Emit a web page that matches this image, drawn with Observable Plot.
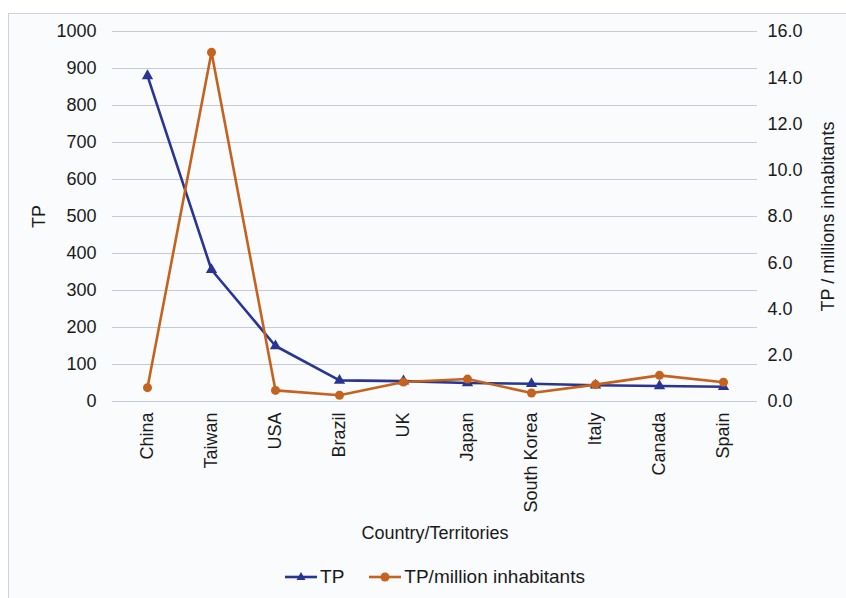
<!DOCTYPE html>
<html>
<head>
<meta charset="utf-8">
<script src="https://cdn.jsdelivr.net/npm/d3@7"></script>
<script src="https://cdn.jsdelivr.net/npm/@observablehq/plot@0.6"></script>
<style>
  html, body { margin: 0; padding: 0; background: #ffffff; overflow: hidden; }
  body { width: 846px; height: 598px; position: relative; font-family: "Liberation Sans", Arial, sans-serif; }
  #frame { position: absolute; left: 8px; top: 13px; width: 900px; height: 700px; border: 1px solid #cfd2d6; background: #f9fbfd; }
  #chart { position: absolute; left: 0; top: 0; }
  #legend { position: absolute; left: 12px; top: 566px; width: 846px; display: flex; justify-content: center; gap: 25px; font-size: 19px; color: #1a1a1a; }
  .item { display: flex; align-items: center; }
  .item svg { margin-right: 2px; }
</style>
</head>
<body>
<div id="frame"></div>
<div id="chart"></div>
<div id="legend"></div>
<script>
const countries = ["China", "Taiwan", "USA", "Brazil", "UK", "Japan", "South Korea", "Italy", "Canada", "Spain"];
const tp = [880, 356, 150, 57, 55, 50, 48, 44, 42, 40];
const tpPerMillion = [0.60, 15.1, 0.48, 0.27, 0.84, 0.97, 0.37, 0.73, 1.13, 0.83];
const leftTicks = [0, 100, 200, 300, 400, 500, 600, 700, 800, 900, 1000];
const rightTicks = [0, 2, 4, 6, 8, 10, 12, 14, 16];
const labels = { x: "Country/Territories", y: "TP", y2: "TP / millions inhabitants", s1: "TP", s2: "TP/million inhabitants" };

const blue = "#283593";
const orange = "#c4621e";
const k = 1000 / 16; // secondary axis mapping

const rows1 = countries.map((c, i) => ({ country: c, value: tp[i] }));
const rows2 = countries.map((c, i) => ({ country: c, value: tpPerMillion[i] * k }));

const chart = Plot.plot({
  width: 846,
  height: 555,
  marginLeft: 112,
  marginRight: 89,
  marginTop: 31,
  marginBottom: 154,
  style: { background: "transparent", fontFamily: "Liberation Sans, Arial, sans-serif", color: "#1a1a1a" },
  x: { type: "point", domain: countries, padding: 0.5 },
  y: { domain: [0, 1000] },
  marks: [
    Plot.gridY(leftTicks, { stroke: "#c6c9d9", strokeOpacity: 1, strokeWidth: 1.2 }),
    Plot.axisY(leftTicks, { anchor: "left", tickSize: 0, tickPadding: 16, fontSize: 18, tickFormat: d => String(d), label: labels.y, labelAnchor: "center", labelOffset: 80, labelArrow: "none" }),
    Plot.axisY(rightTicks.map(d => d * k), { anchor: "right", tickSize: 0, tickPadding: 10, fontSize: 18, tickFormat: d => (d / k).toFixed(1), label: labels.y2, labelAnchor: "center", labelOffset: 76, labelArrow: "none" }),
    Plot.axisX({ anchor: "bottom", tickSize: 0, tickPadding: 11, tickRotate: -90, fontSize: 18, label: labels.x, labelAnchor: "center", labelOffset: 137, labelArrow: "none" }),
    Plot.line(rows1, { x: "country", y: "value", stroke: blue, strokeWidth: 2.6 }),
    Plot.dot(rows1, { x: "country", y: "value", symbol: "triangle", fill: blue, r: 4.2 }),
    Plot.line(rows2, { x: "country", y: "value", stroke: orange, strokeWidth: 2.6 }),
    Plot.dot(rows2, { x: "country", y: "value", symbol: "circle", fill: orange, r: 4.5 })
  ]
});
document.getElementById("chart").appendChild(chart);

const legend = document.getElementById("legend");
function item(color, sym, text) {
  const d = document.createElement("div");
  d.className = "item";
  const marker = sym === "triangle"
    ? `<path d="M16,3 L20.5,11 L11.5,11 Z" fill="${color}"/>`
    : `<circle cx="16" cy="8" r="4.5" fill="${color}"/>`;
  d.innerHTML = `<svg width="33" height="16"><line x1="0" y1="8" x2="32" y2="8" stroke="${color}" stroke-width="2.6"/>${marker}</svg><span>${text}</span>`;
  legend.appendChild(d);
}
item(blue, "triangle", labels.s1);
item(orange, "circle", labels.s2);
</script>
</body>
</html>
